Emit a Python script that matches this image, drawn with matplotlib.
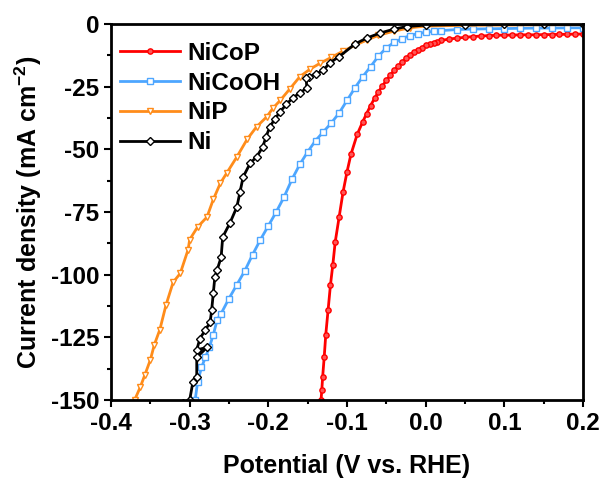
import matplotlib
matplotlib.use('Agg')
import matplotlib.pyplot as plt
from matplotlib.ticker import MultipleLocator

plt.rcParams['font.family'] = ['Liberation Sans', 'DejaVu Sans']
plt.rcParams['font.weight'] = 'bold'
plt.rcParams['mathtext.fontset'] = 'custom'
plt.rcParams['mathtext.rm'] = 'Liberation Sans:bold'
plt.rcParams['mathtext.bf'] = 'Liberation Sans:bold'

# potential (V vs. RHE) and current density (mA cm-2)
nicop_v = [0.2, 0.19, 0.18, 0.17, 0.16, 0.15, 0.14, 0.13, 0.12, 0.11, 0.1, 0.09, 0.08,
           0.07, 0.06, 0.05, 0.04, 0.03, 0.02, 0.015, 0.01, 0.005, 0.0, -0.005, -0.01,
           -0.015, -0.02, -0.025, -0.03, -0.035, -0.04, -0.045, -0.05, -0.055, -0.06,
           -0.065, -0.07, -0.075, -0.08, -0.087, -0.095, -0.1, -0.105, -0.11, -0.115,
           -0.118, -0.121, -0.124, -0.127, -0.129, -0.131, -0.132, -0.133]
nicop_j = [-4.0, -4.0, -4.1, -4.1, -4.2, -4.2, -4.3, -4.3, -4.3, -4.4, -4.4, -4.5, -4.6,
           -4.8, -5.0, -5.3, -5.6, -6.0, -6.5, -7.0, -7.5, -8.0, -8.5, -9.4, -10.3,
           -11.3, -12.3, -13.7, -15.2, -16.8, -18.5, -20.4, -22.5, -24.7, -27.0,
           -29.7, -32.5, -35.7, -39.0, -44.0, -52.0, -59.0, -67.0, -77.0, -87.0,
           -96.0, -104.0, -114.0, -124.0, -133.0, -141.0, -146.0, -150.0]

nicooh_v = [0.2, 0.18, 0.16, 0.14, 0.12, 0.1, 0.08, 0.06, 0.04, 0.02, 0.01, 0.0, -0.01,
            -0.02, -0.03, -0.04, -0.05, -0.06, -0.07, -0.08, -0.09, -0.1, -0.11, -0.12,
            -0.13, -0.14, -0.15, -0.16, -0.17, -0.18, -0.19, -0.2, -0.21, -0.22, -0.23,
            -0.24, -0.25, -0.26, -0.265, -0.27, -0.275, -0.28, -0.285, -0.29, -0.293]
nicooh_j = [-1.5, -1.5, -1.6, -1.6, -1.7, -1.8, -1.9, -2.0, -2.2, -2.6, -2.9, -3.3, -3.8,
            -4.6, -5.8, -7.3, -9.5, -12.8, -17.0, -21.0, -25.5, -30.5, -35.5, -39.5,
            -43.0, -46.5, -51.0, -56.0, -62.0, -69.0, -75.0, -80.5, -86.0, -92.0, -98.5,
            -104.0, -109.5, -115.5, -118.0, -124.0, -129.0, -133.0, -137.0, -143.0, -150.0]

nip_v = [0.2, 0.15, 0.1, 0.05, 0.0, -0.02, -0.04, -0.06, -0.075, -0.09, -0.105, -0.12,
         -0.134, -0.147, -0.16, -0.173, -0.185, -0.194, -0.202, -0.215, -0.227, -0.24,
         -0.253, -0.261, -0.27, -0.278, -0.29, -0.3, -0.302, -0.312, -0.321, -0.33,
         -0.338, -0.345, -0.35, -0.357, -0.363, -0.37]
nip_j = [-0.3, -0.3, -0.4, -0.5, -0.8, -1.5, -2.8, -4.5, -6.4, -8.5, -10.8, -13.3,
         -15.6, -18.0, -21.0, -26.0, -30.5, -33.5, -37.0, -41.0, -46.0, -53.0,
         -59.5, -63.5, -70.0, -77.0, -81.0, -86.0, -90.0, -99.5, -103.0, -112.0,
         -122.0, -128.0, -134.0, -140.0, -145.0, -150.0]

ni_v = [0.2, 0.15, 0.1, 0.05, 0.0, -0.024, -0.04, -0.058, -0.075, -0.09, -0.11, -0.122,
        -0.13, -0.14, -0.148, -0.152, -0.151, -0.16, -0.169, -0.177, -0.185, -0.192,
        -0.198, -0.203, -0.207, -0.215, -0.223, -0.232, -0.236, -0.24, -0.249, -0.258,
        -0.26, -0.265, -0.268, -0.27, -0.272, -0.274, -0.28, -0.287, -0.291, -0.278,
        -0.291, -0.291, -0.296, -0.3, -0.308]
ni_j = [0.0, -0.1, -0.1, -0.2, -0.4, -1.0, -2.0, -3.6, -5.6, -8.0, -13.0, -15.5,
        -18.4, -20.0, -21.0, -21.5, -25.5, -27.5, -29.5, -32.0, -35.0, -38.0,
        -41.0, -45.0, -49.0, -53.0, -55.5, -61.0, -67.0, -73.0, -79.5, -85.0,
        -93.0, -98.0, -101.0, -107.5, -114.0, -119.0, -122.0, -125.5, -130.0, -129.0,
        -133.0, -141.0, -143.0, -150.0, -151.0]

fig = plt.figure(figsize=(6.02, 4.82), dpi=100)
ax = fig.add_axes([0.1844, 0.1701, 0.784, 0.780])

ax.plot(nicop_v, nicop_j, color='#ff0000', lw=2, marker='o', ms=3.8,
        mfc='#ff5555', mec='#ff0000', mew=1, label='NiCoP')
ax.plot(nicooh_v, nicooh_j, color='#4da6ff', lw=2, marker='s', ms=3.8,
        mfc='white', mec='#4da6ff', mew=1, label='NiCoOH')
ax.plot(nip_v, nip_j, color='#ff8c1a', lw=2, marker='v', ms=4.8,
        mfc='white', mec='#ff8c1a', mew=1, label='NiP')
ax.plot(ni_v, ni_j, color='black', lw=2, marker='D', ms=3.8,
        mfc='white', mec='black', mew=1, label='Ni')

ax.set_xlim(-0.4, 0.2)
ax.set_ylim(-150, 0)
ax.xaxis.set_minor_locator(MultipleLocator(0.05))
ax.yaxis.set_minor_locator(MultipleLocator(12.5))
ax.set_xticks([-0.4, -0.3, -0.2, -0.1, 0.0, 0.1, 0.2])
ax.set_xticklabels(['-0.4', '-0.3', '-0.2', '-0.1', '0.0', '0.1', '0.2'])
ax.set_yticks([0, -25, -50, -75, -100, -125, -150])
ax.set_yticklabels(['0', '-25', '-50', '-75', '-100', '-125', '-150'])
ax.tick_params(which='major', direction='out', length=5, width=1.5, labelsize=17.5)
ax.tick_params(which='minor', direction='out', length=3, width=1.5)
for s in ax.spines.values():
    s.set_linewidth(2)

ax.set_xlabel('Potential (V vs. RHE)', fontsize=18, fontweight='bold', labelpad=14)
ax.set_ylabel('Current density (mA cm$^{-2}$)', fontsize=18, fontweight='bold', labelpad=5)

ax.legend(loc='upper left', frameon=False, fontsize=17.5, handlelength=2.5,
          handletextpad=0.3, labelspacing=0.28, borderaxespad=0.3, numpoints=1,
          bbox_to_anchor=(-0.018, 0.998))

fig.savefig('out.png', dpi=100)
